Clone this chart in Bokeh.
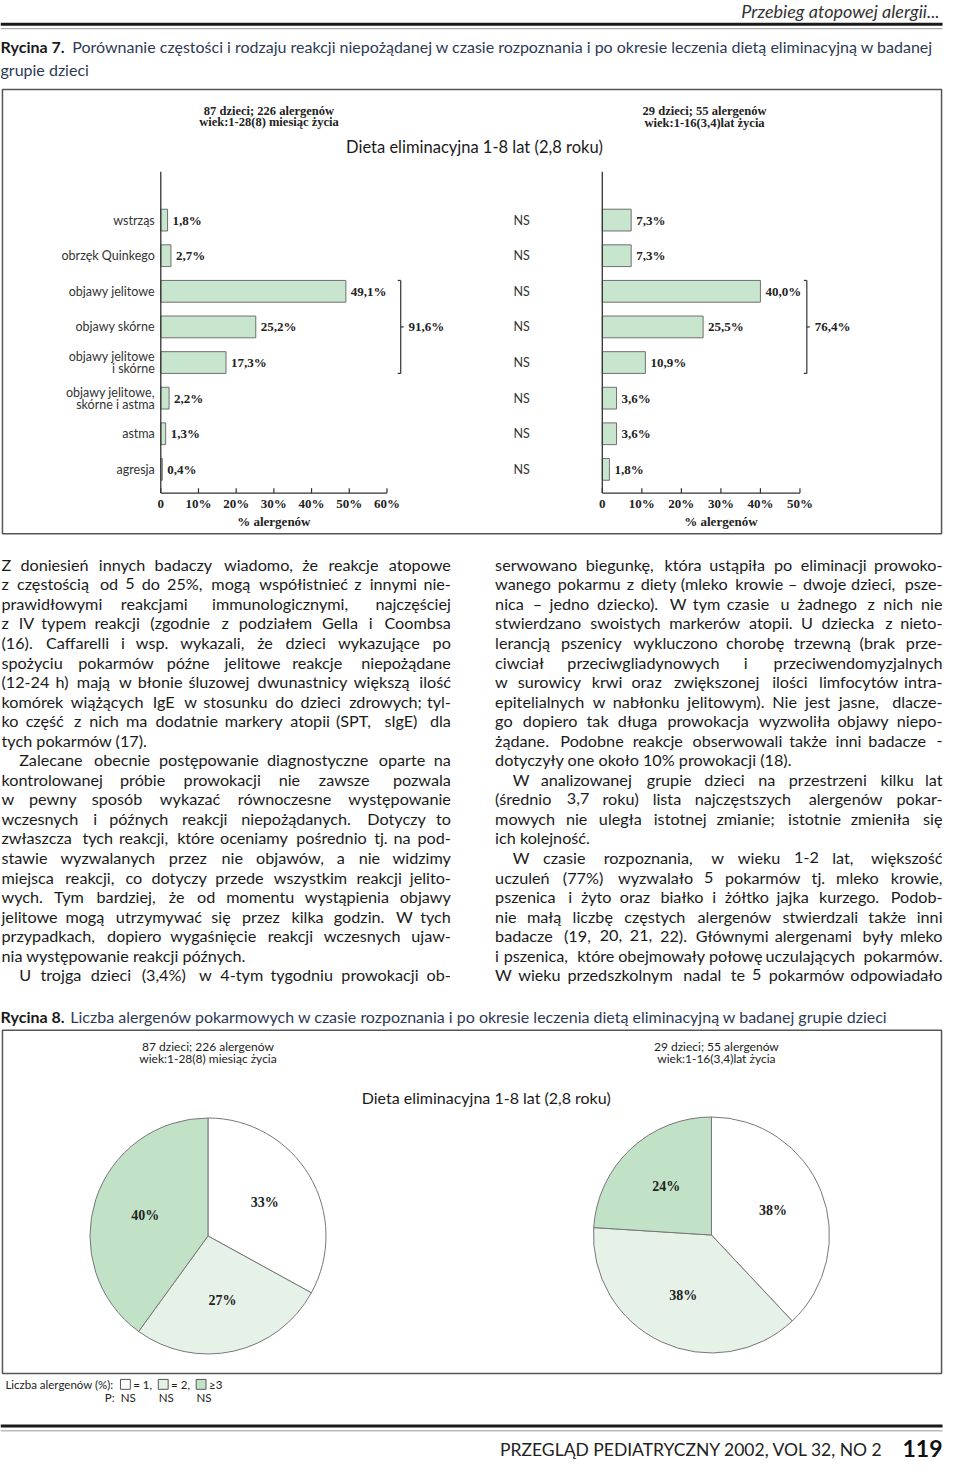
import unicodedata
import numpy as np
from bokeh.plotting import figure
from bokeh.models import Range1d
from bokeh.core.properties import value
from bokeh.embed import file_html
from bokeh.resources import INLINE

# ---------------- data ----------------
reaction_types = ["wstrząs", "obrzęk Quinkego", "objawy jelitowe", "objawy skórne",
                  "objawy jelitowe\ni skórne", "objawy jelitowe,\nskórne i astma",
                  "astma", "agresja"]
pct_diagnosis = [1.8, 2.7, 49.1, 25.2, 17.3, 2.2, 1.3, 0.4]
pct_after = [7.3, 7.3, 40.0, 25.5, 10.9, 3.6, 3.6, 1.8]
p_reaction = ["NS", "NS", "NS", "NS", "NS", "NS", "NS", "NS"]
ticks_diagnosis = [0, 10, 20, 30, 40, 50, 60]
ticks_after = [0, 10, 20, 30, 40, 50]
# bracketed group: "objawy jelitowe", "objawy skórne", "objawy jelitowe i skórne"
group_first, group_size = 2, 3
group_sum_diagnosis = 91.6
group_sum_after = 76.4

allergen_classes = ["= 1", "= 2", "≥3"]
share_diagnosis = [33, 27, 40]
share_after = [38, 38, 24]
p_allergen = ["NS", "NS", "NS"]

group_diagnosis = ["87 dzieci; 226 alergenów", "wiek:1-28(8) miesiąc życia"]
group_after = ["29 dzieci; 55 alergenów", "wiek:1-16(3,4)lat życia"]
diet_title = "Dieta eliminacyjna 1-8 lat (2,8 roku)"
axis_title = "% alergenów"

left_lines = [
    "Z doniesień innych badaczy wiadomo, że reakcje atopowe",
    "z częstością od 5 do 25%, mogą współistnieć z innymi nie-",
    "prawidłowymi reakcjami immunologicznymi, najczęściej",
    "z IV typem reakcji (zgodnie z podziałem Gella i Coombsa",
    "(16). Caffarelli i wsp. wykazali, że dzieci wykazujące po",
    "spożyciu pokarmów późne jelitowe reakcje niepożądane",
    "(12-24 h) mają w błonie śluzowej dwunastnicy większą ilość",
    "komórek wiążących IgE w stosunku do dzieci zdrowych; tyl-",
    "ko część z nich ma dodatnie markery atopii (SPT, sIgE) dla",
    "tych pokarmów (17).",
    "\tZalecane obecnie postępowanie diagnostyczne oparte na",
    "kontrolowanej próbie prowokacji nie zawsze pozwala",
    "w pewny sposób wykazać równoczesne występowanie",
    "wczesnych i późnych reakcji niepożądanych. Dotyczy to",
    "zwłaszcza tych reakcji, które oceniamy pośrednio tj. na pod-",
    "stawie wyzwalanych przez nie objawów, a nie widzimy",
    "miejsca reakcji, co dotyczy przede wszystkim reakcji jelito-",
    "wych. Tym bardziej, że od momentu wystąpienia objawy",
    "jelitowe mogą utrzymywać się przez kilka godzin. W tych",
    "przypadkach, dopiero wygaśnięcie reakcji wczesnych ujaw-",
    "nia występowanie reakcji późnych.",
    "\tU trojga dzieci (3,4%) w 4-tym tygodniu prowokacji ob-",
]
right_lines = [
    "serwowano biegunkę, która ustąpiła po eliminacji prowoko-",
    "wanego pokarmu z diety (mleko krowie – dwoje dzieci, psze-",
    "nica – jedno dziecko). W tym czasie u żadnego z nich nie",
    "stwierdzano swoistych markerów atopii. U dziecka z nieto-",
    "lerancją pszenicy wykluczono chorobę trzewną (brak prze-",
    "ciwciał przeciwgliadynowych i przeciwendomyzjalnych",
    "w surowicy krwi oraz zwiększonej ilości limfocytów intra-",
    "epitelialnych w nabłonku jelitowym). Nie jest jasne, dlacze-",
    "go dopiero tak długa prowokacja wyzwoliła objawy niepo-",
    "żądane. Podobne reakcje obserwowali także inni badacze -",
    "dotyczyły one około 10% prowokacji (18).",
    "\tW analizowanej grupie dzieci na przestrzeni kilku lat",
    "(średnio 3,7 roku) lista najczęstszych alergenów pokar-",
    "mowych nie uległa istotnej zmianie; istotnie zmieniła się",
    "ich kolejność.",
    "\tW czasie rozpoznania, w wieku 1-2 lat, większość",
    "uczuleń (77%) wyzwalało 5 pokarmów tj. mleko krowie,",
    "pszenica i żyto oraz białko i żółtko jajka kurzego. Podob-",
    "nie małą liczbę częstych alergenów stwierdzali także inni",
    "badacze (19, 20, 21, 22). Głównymi alergenami były mleko",
    "i pszenica, które obejmowały połowę uczulających pokarmów.",
    "W wieku przedszkolnym nadal te 5 pokarmów odpowiadało",
]
paragraph_ends = {"left": [9, 20], "right": [10, 14]}

# ---------------- page canvas ----------------
W, H = 960, 1478
PW, PH = 944, 1462
SX = PW / W
p = figure(width=PW, height=PH, x_range=Range1d(0, W), y_range=Range1d(H, 0),
           x_axis_type=None, y_axis_type=None, toolbar_location=None,
           output_backend="svg", min_border=0, outline_line_color=None,
           background_fill_color="white", border_fill_color="white")
p.grid.visible = False

SANS = "Lato"
SERIF = "Liberation Serif"
BAR_FILL = "#c8e5cd"
EDGE = "#6f6f6f"
INK = "#222222"


def txt(x, y, s, size, font=SANS, style="normal", color=INK, align="left", **kw):
    p.text(x=[x], y=[y], text=[s], text_font=value(font), text_font_size=f"{size}px",
           text_font_style=style, text_color=color, text_align=align,
           text_baseline="middle", **kw)


def line(x0, y0, x1, y1, color=INK, width=1.0, **kw):
    p.segment(x0=[x0], y0=[y0], x1=[x1], y1=[y1], line_color=color, line_width=width, **kw)


def pct_label(v):
    return f"{v:.1f}%".replace(".", ",")


# approximate advance widths (per 1000 em) used to spread words for justified text
_W = {" ": 278, ",": 278, ".": 278, ";": 278, ":": 278, "(": 333, ")": 333, "-": 333,
      "–": 556, "%": 889, "f": 278, "i": 222, "j": 222, "l": 222, "ł": 240, "m": 833,
      "r": 333, "t": 278, "w": 722, "c": 500, "k": 500, "s": 500, "v": 500, "x": 500,
      "y": 500, "z": 500, "I": 278, "W": 944, "M": 833, "G": 778, "O": 778, "C": 722,
      "D": 722, "H": 722, "N": 722, "R": 722, "U": 722, "E": 667, "S": 667, "P": 667,
      "T": 611, "Z": 611, "L": 556, "J": 500}


def est_width(s, size):
    tot = 0
    for ch in s:
        base = unicodedata.normalize("NFD", ch)[0]
        tot += _W.get(ch, _W.get(base, 556))
    return tot / 1000.0 * size / SX  # in page units


def body_line(x0, x1, y, s, size, justify):
    words = s.split(" ")
    if not justify or len(words) < 2:
        txt(x0, y, s, size, color="#1a1a1a")
        return
    widths = [est_width(w_, size) for w_ in words]
    gap = (x1 - x0 - sum(widths)) / (len(words) - 1)
    if gap < 2:
        txt(x0, y, s, size, color="#1a1a1a")
        return
    xs, cur = [], x0
    for w_ in widths:
        xs.append(cur)
        cur += w_ + gap
    p.text(x=xs[:-1], y=[y] * (len(words) - 1), text=words[:-1], text_font=value(SANS),
           text_font_size=f"{size}px", text_color="#1a1a1a", text_baseline="middle")
    txt(x1, y, words[-1], size, color="#1a1a1a", align="right")


# extra x scales for the two bar panels: value 0 at page x px0, value v1 at page x px1
def add_scale(name, px0, px1, v1):
    k = v1 / (px1 - px0)
    start = -px0 * k
    p.extra_x_ranges[name] = Range1d(start, start + W * k)


p.extra_x_ranges = {}
add_scale("L", 163, 393, ticks_diagnosis[-1])
add_scale("R", 612, 813, ticks_after[-1])

# ---------------- header ----------------
txt(955, 11, "Przebieg atopowej alergii...", 18, style="italic", align="right", color="#333")
line(0, 24, 958, 24, width=3, color="#1a1a1a")
line(0, 28.5, 958, 28.5, width=1, color="#999")

txt(0, 46, "Rycina 7.", 16, style="bold", color="#1a1a1a")
txt(73, 46, "Porównanie częstości i rodzaju reakcji niepożądanej w czasie rozpoznania "
            "i po okresie leczenia dietą eliminacyjną w badanej", 16, color="#2e3a55")
txt(0, 70, "grupie dzieci", 16, color="#2e3a55")

# ---------------- figure 7 box ----------------
p.quad(left=[2], right=[957], top=[90], bottom=[539], fill_color=None,
       line_color="#555", line_width=1.5)

txt(273, 112, group_diagnosis[0], 12.5, font=SERIF, style="bold", align="center")
txt(273, 123, group_diagnosis[1], 12.5, font=SERIF, style="bold", align="center")
txt(716, 112, group_after[0], 12.5, font=SERIF, style="bold", align="center")
txt(716, 124, group_after[1], 12.5, font=SERIF, style="bold", align="center")
txt(482, 148, diet_title, 16.5, align="center", color="#1a1a1a")

n = len(reaction_types)
row_y = [222 + 36.0 * i for i in range(n)]
BAR_H = 22
AXIS_TOP, AXIS_Y = 173, 498


def bar_panel(rng, vals, ticks, group_sum, bracket_x):
    p.hbar(y=row_y, left=0, right=vals, height=BAR_H, x_range_name=rng,
           fill_color=BAR_FILL, line_color=EDGE, line_width=1)
    p.text(x=vals, y=row_y, text=[pct_label(v) for v in vals], x_offset=5,
           x_range_name=rng, text_font=value(SERIF), text_font_style="bold",
           text_font_size="13px", text_color=INK, text_baseline="middle")
    # axes
    line(0, AXIS_TOP, 0, AXIS_Y, width=1.3, color="#333", x_range_name=rng)
    line(0, AXIS_Y, ticks[-1], AXIS_Y, width=1.3, color="#333", x_range_name=rng)
    p.segment(x0=ticks, x1=ticks, y0=[AXIS_Y - 5] * len(ticks), y1=[AXIS_Y] * len(ticks),
              x_range_name=rng, line_color="#333", line_width=1.2)
    p.text(x=ticks, y=[509] * len(ticks),
           text=["0" if t == 0 else f"{t}%" for t in ticks], x_range_name=rng,
           text_font=value(SERIF), text_font_style="bold", text_font_size="13px",
           text_color=INK, text_align="center", text_baseline="middle")
    p.text(x=[30], y=[527], text=[axis_title], x_range_name=rng,
           text_font=value(SERIF), text_font_style="bold", text_font_size="13px",
           text_color=INK, text_align="center", text_baseline="middle")
    # bracket around the grouped categories
    top = row_y[group_first] - BAR_H / 2
    bot = row_y[group_first + group_size - 1] + BAR_H / 2
    mid = (top + bot) / 2
    line(bracket_x, top, bracket_x, bot, width=1.2, color="#333")
    line(bracket_x - 3, top, bracket_x, top, width=1.2, color="#333")
    line(bracket_x - 3, bot, bracket_x, bot, width=1.2, color="#333")
    line(bracket_x, mid, bracket_x + 3, mid, width=1.2, color="#333")
    txt(bracket_x + 8, mid, pct_label(group_sum), 13, font=SERIF, style="bold")


bar_panel("L", pct_diagnosis, ticks_diagnosis, group_sum_diagnosis, 407)
bar_panel("R", pct_after, ticks_after, group_sum_after, 820)

# category labels (right aligned next to left axis)
for yc, name in zip(row_y, reaction_types):
    parts = name.split("\n")
    for j, part in enumerate(parts):
        yy = yc + (j - (len(parts) - 1) / 2) * 12
        p.text(x=[0], y=[yy], text=[part], x_offset=-6, x_range_name="L",
               text_font=value(SANS), text_font_size="12.5px", text_color="#333",
               text_align="right", text_baseline="middle")
# significance column
p.text(x=[530] * n, y=row_y, text=p_reaction, text_font=value(SANS),
       text_font_size="12.5px", text_color="#333", text_align="center", text_baseline="middle")

# ---------------- body text ----------------
LINE0, LSTEP, BODY = 570, 19.76, 16.2
for key, (x0, x1, lines) in {"left": (1, 458, left_lines),
                             "right": (503, 958, right_lines)}.items():
    for i, s in enumerate(lines):
        xs = x0
        if s.startswith("\t"):
            s = s[1:]
            xs = x0 + 18
        body_line(xs, x1, LINE0 + i * LSTEP, s, BODY, i not in paragraph_ends[key])

# ---------------- figure 8 ----------------
txt(0, 1027, "Rycina 8.", 16, style="bold", color="#1a1a1a")
txt(71, 1027, "Liczba alergenów pokarmowych w czasie rozpoznania i po okresie leczenia "
              "dietą eliminacyjną w badanej grupie dzieci", 16, color="#2e3a55")
p.quad(left=[2], right=[957], top=[1041], bottom=[1388], fill_color=None,
       line_color="#555", line_width=1.5)
txt(211, 1057, group_diagnosis[0], 12, align="center")
txt(211, 1070, group_diagnosis[1], 12, align="center")
txt(728, 1057, group_after[0], 12, align="center")
txt(728, 1070, group_after[1], 12, align="center")
txt(494, 1109, diet_title, 16, align="center", color="#1a1a1a")

PIE_COLORS = ["#ffffff", "#e6f1e7", "#c2e2c8"]


def pie(cx, cy, r, shares):
    frac = np.array(shares, dtype=float) / 100.0
    cum = np.concatenate([[0.0], np.cumsum(frac)])
    start = np.pi / 2 - 2 * np.pi * cum[:-1]
    end = np.pi / 2 - 2 * np.pi * cum[1:]
    p.wedge(x=[cx] * len(shares), y=[cy] * len(shares), radius=r,
            start_angle=list(start), end_angle=list(end), direction="clock",
            fill_color=PIE_COLORS, line_color="#777", line_width=1)
    mid = (start + end) / 2
    lx = cx + 0.56 * r * np.cos(mid)
    ly = cy - 0.56 * r * np.sin(mid)
    p.text(x=list(lx), y=list(ly), text=[f"{s}%" for s in shares],
           text_font=value(SERIF), text_font_style="bold", text_font_size="14px",
           text_color=INK, text_align="center", text_baseline="middle")


pie(211, 1249, 120, share_diagnosis)
pie(723, 1248, 120, share_after)

# legend
txt(5, 1399, "Liczba alergenów (%):", 11.5, color="#222")
sq_x = [127 + 38.5 * i for i in range(len(allergen_classes))]
p.rect(x=sq_x, y=[1399] * len(sq_x), width=10, height=10, fill_color=PIE_COLORS,
       line_color="#555", line_width=1)
for i, (xx, lab) in enumerate(zip(sq_x, allergen_classes)):
    s = lab + ("," if i < len(allergen_classes) - 1 else "")
    txt(xx + 8, 1399, s, 11.5, color="#222")
txt(106, 1412, "P:", 11.5, color="#222")
p.text(x=[xx + 3 for xx in sq_x], y=[1412] * len(sq_x), text=p_allergen,
       text_font=value(SANS), text_font_size="11.5px", text_color="#222",
       text_align="center", text_baseline="middle")

# footer
line(0, 1441, 958, 1441, width=3, color="#1a1a1a")
line(0, 1446, 958, 1446, width=1, color="#999")
txt(898, 1465, "PRZEGLĄD PEDIATRYCZNY 2002, VOL 32, NO 2", 17.5, align="right", color="#222")
txt(958, 1464, "119", 23, style="bold", align="right", color="#111")

open("out.html", "w").write(file_html(p, INLINE))
